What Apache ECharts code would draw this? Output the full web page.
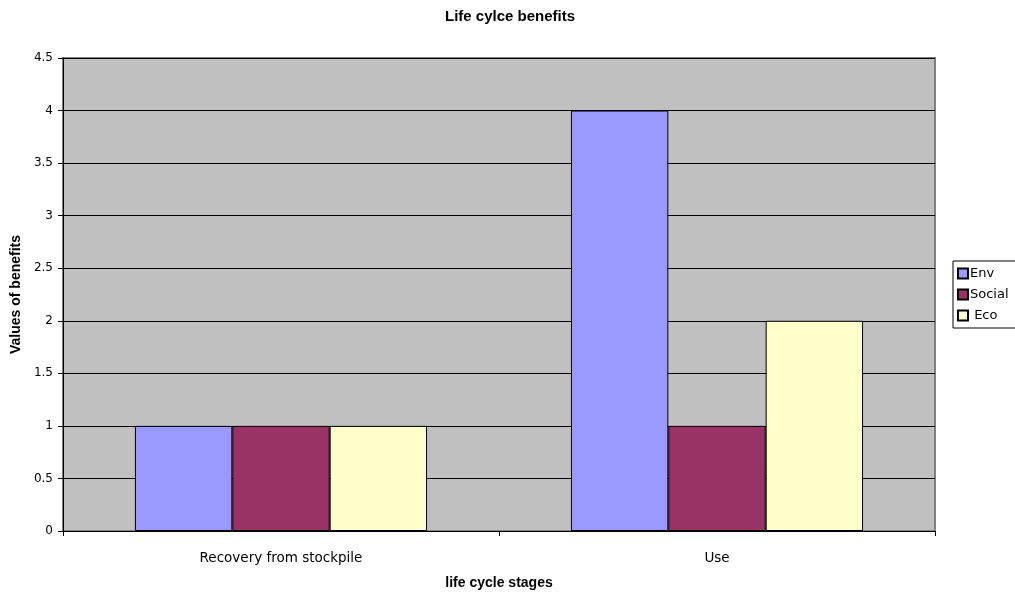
<!DOCTYPE html>
<html>
<head>
<meta charset="utf-8">
<script src="https://cdn.jsdelivr.net/npm/echarts@6/dist/echarts.min.js"></script>
<style>
  html, body { margin: 0; padding: 0; background: #fff; }
  #chart { width: 1015px; height: 596px; }
</style>
</head>
<body>
<div id="chart"></div>
<script>
// Life cycle stages and benefit scores per dimension
const stages = ['Recovery from stockpile', 'Use'];
const envValues = [1, 4];
const socialValues = [1, 1];
const ecoValues = [1, 2];
const seriesNames = ['Env', 'Social', ' Eco'];
const seriesColors = ['#9999ff', '#993366', '#ffffcc'];

const font = '"DejaVu Sans", "Liberation Sans", Arial, sans-serif';
const boldFont = '"Liberation Sans", Arial, sans-serif';
const chart = echarts.init(document.getElementById('chart'));

const barStyle = (color) => ({ color: color, borderColor: '#000', borderWidth: 1 });

chart.setOption({
  animation: false,
  backgroundColor: '#fff',
  title: {
    text: 'Life cylce benefits',
    left: 505,
    top: 4,
    textAlign: 'center',
    textStyle: { fontFamily: boldFont, fontSize: 15, fontWeight: 'bold', color: '#000' }
  },
  legend: {
    orient: 'vertical',
    left: 953,
    top: 261,
    padding: [6, 8, 6, 4],
    itemWidth: 10,
    itemHeight: 10,
    itemGap: 8,
    borderColor: '#000',
    borderWidth: 1,
    icon: 'rect',
    textStyle: { fontFamily: font, fontSize: 13, color: '#000', padding: [0, 0, 0, -3] },
    data: seriesNames
  },
  grid: {
    left: 63,
    right: 80,
    top: 58,
    bottom: 65,
    show: true,
    backgroundColor: '#c0c0c0',
    borderColor: '#808080',
    borderWidth: 2
  },
  xAxis: {
    type: 'category',
    data: stages,
    name: 'life cycle stages',
    nameLocation: 'middle',
    nameGap: 45,
    nameTextStyle: { fontFamily: boldFont, fontSize: 14, fontWeight: 'bold', color: '#000' },
    axisLine: { lineStyle: { color: '#000', width: 1 } },
    axisTick: { show: true, length: 5, lineStyle: { color: '#000' } },
    axisLabel: { fontFamily: font, fontSize: 13.5, color: '#000', margin: 20 }
  },
  yAxis: {
    type: 'value',
    min: 0,
    max: 4.5,
    interval: 0.5,
    name: 'Values of benefits',
    nameLocation: 'middle',
    nameGap: 38,
    nameTextStyle: { fontFamily: boldFont, fontSize: 14, fontWeight: 'bold', color: '#000' },
    axisLine: { show: true, lineStyle: { color: '#000', width: 1 } },
    axisTick: { show: true, length: 5, lineStyle: { color: '#000' } },
    axisLabel: { fontFamily: font, fontSize: 12, color: '#000', margin: 10 },
    splitLine: { show: true, lineStyle: { color: '#000', width: 1 } }
  },
  series: [
    { name: seriesNames[0], type: 'bar', data: envValues, itemStyle: barStyle(seriesColors[0]), barGap: '0%', barCategoryGap: '33%' },
    { name: seriesNames[1], type: 'bar', data: socialValues, itemStyle: barStyle(seriesColors[1]), barGap: '0%', barCategoryGap: '33%' },
    { name: seriesNames[2], type: 'bar', data: ecoValues, itemStyle: barStyle(seriesColors[2]), barGap: '0%', barCategoryGap: '33%' }
  ]
});
</script>
</body>
</html>
